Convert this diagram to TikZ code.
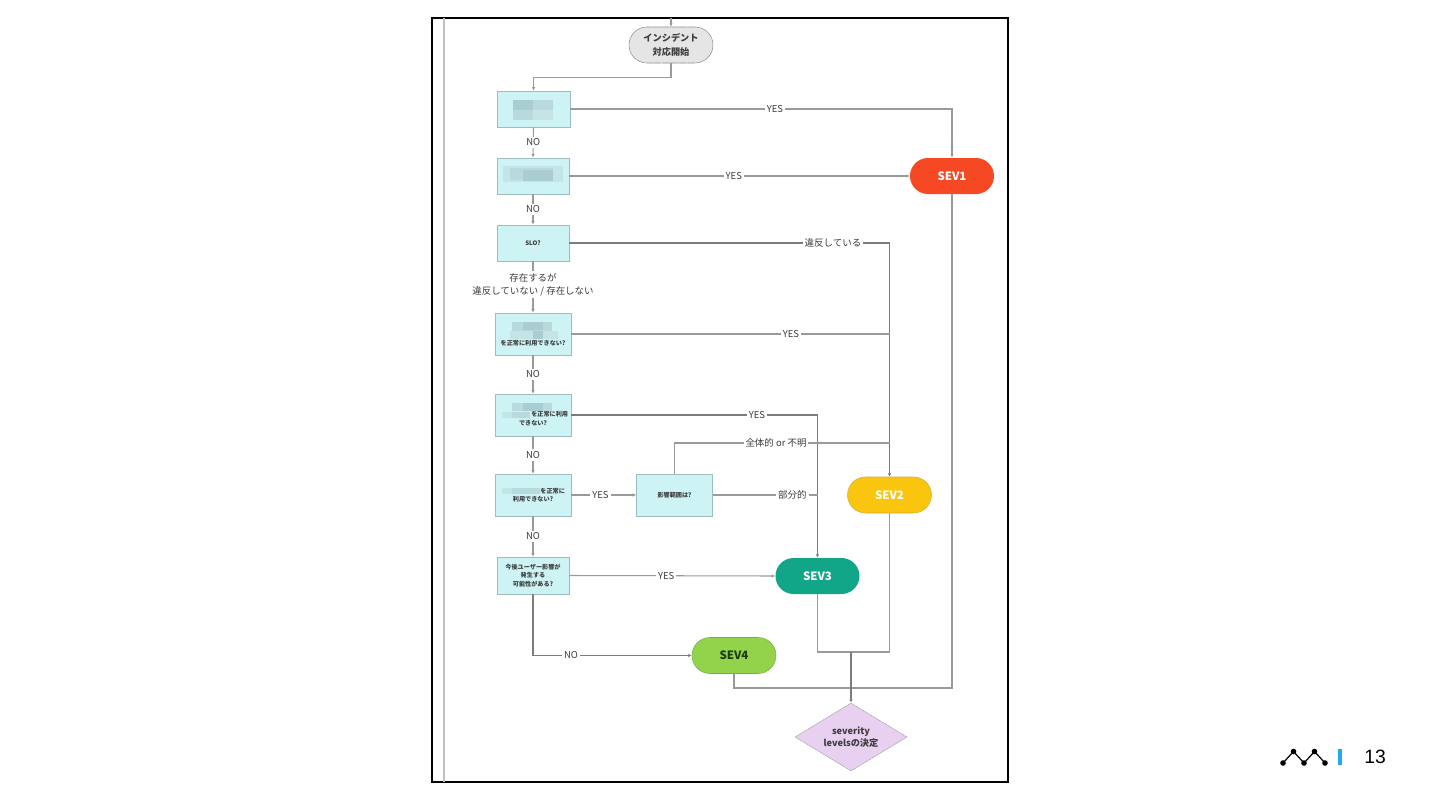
\documentclass[tikz,border=0pt]{standalone}
\usepackage{fontspec}
\setmainfont{Noto Sans CJK JP}
\newfontfamily\numfont{Liberation Sans}
\usetikzlibrary{shapes.geometric,arrows.meta}
\definecolor{boxfill}{HTML}{CDF3F5}
\definecolor{boxline}{HTML}{9DBDBF}
\definecolor{wire}{HTML}{9A9A9A}
\definecolor{wiredark}{HTML}{7C7C7C}
\definecolor{ink}{HTML}{3C3C3C}
\definecolor{blurA}{HTML}{B9DADC}
\definecolor{blurB}{HTML}{A9CDD0}
\definecolor{blurC}{HTML}{C4E4E6}
\definecolor{sevred}{RGB}{245,72,35}
\definecolor{sevyellow}{RGB}{250,197,15}
\definecolor{sevyellowline}{RGB}{210,175,60}
\definecolor{sevteal}{RGB}{18,166,137}
\definecolor{sevgreen}{RGB}{146,211,75}
\definecolor{sevgreenline}{RGB}{120,175,70}
\definecolor{sevink}{RGB}{30,60,20}
\definecolor{lilac}{RGB}{232,208,240}
\definecolor{barblue}{RGB}{30,170,235}
\tikzset{
  x=0.75pt,y=-0.75pt,
  qbox/.style={draw=boxline,line width=0.6pt,fill=boxfill,inner sep=0pt,align=center,text=ink,font=\fontsize{4.6}{6.4}\selectfont\bfseries},
  wh/.style 2 args={minimum width=#1*0.75pt,minimum height=#2*0.75pt},
  pill/.style={rounded corners=13.5pt,inner sep=0pt,align=center,minimum width=63pt,minimum height=27pt,font=\fontsize{8.6}{10}\selectfont\bfseries},
  conn/.style={draw=wire,line width=0.8pt},
  arr/.style={conn,-{Latex[length=2.6pt,width=2.6pt]}},
  lab/.style={fill=white,inner sep=1.5pt,text=ink,font=\fontsize{7.1}{9.8}\selectfont,align=center},
  blura/.style={fill=blurA,draw=none},
  blurb/.style={fill=blurB,draw=none},
  blurc/.style={fill=blurC,draw=none},
}
\begin{document}
\begin{tikzpicture}
\useasboundingbox (0,0) rectangle (1440,810);
\fill[white] (0,0) rectangle (1440,810);
% frame
\draw[black,line width=1.5pt] (431.5,18) rectangle (1008,781.5);
\draw[black!25,line width=0.9pt] (444,18) -- (444,781.5);
% nodes
\node[draw=black!45,dash pattern=on 6pt off 0.4pt,fill=black!10,rounded corners=13.5pt,inner sep=0pt,align=center,minimum width=63pt,minimum height=27pt,text=ink,font=\fontsize{6.9}{10.4}\selectfont\bfseries] (start) at (671,45) {インシデント\\対応開始};
\coordinate (top) at (671,18);
\node[qbox,wh={73}{36}] (b1) at (533.5,109) {};
\node[qbox,wh={72}{36}] (b2) at (533,176) {};
\node[qbox,wh={72}{36}] (b3) at (533,243) {SLO?};
\node[qbox,wh={76}{42}] (b4) at (533,334) {\phantom{あ}\\[7.8pt]を正常に利用できない?};
\node[qbox,wh={76}{42}] (b5) at (533,415) {\raisebox{-4.6pt}[0pt][0pt]{\hspace*{25pt}を正常に利用}\\\raisebox{-4.6pt}[0pt][0pt]{できない?}};
\node[qbox,wh={76}{42}] (b6) at (533,495) {\hspace*{29.5pt}を正常に\\利用できない?};
\node[qbox,wh={72}{37}] (b7) at (533,575.5) {今後ユーザー影響が\\発生する\\可能性がある?};
\node[qbox,wh={76}{42}] (b8) at (674.5,495) {影響範囲は?};
\node[pill,fill=sevred,text=white] (sev1) at (952,176) {SEV1};
\node[pill,fill=sevyellow,draw=sevyellowline,line width=0.4pt,text=white] (sev2) at (889.5,495) {SEV2};
\node[pill,fill=sevteal,text=white] (sev3) at (817.5,576) {SEV3};
\node[pill,fill=sevgreen,draw=sevgreenline,line width=0.4pt,text=sevink] (sev4) at (734,655.5) {SEV4};
\node[diamond,shape aspect=1.65,draw=black!35,dash pattern=on 2pt off 0.5pt,line width=0.4pt,fill=lilac,inner sep=0pt,minimum width=84pt,minimum height=51pt,align=center,text=ink,font=\fontsize{6.9}{9.4}\selectfont\bfseries] (sevlv) at (851,737) {severity\\levelsの決定};
% junctions
\coordinate (j2a) at (889.5,334);
\coordinate (j2b) at (889.5,443);
\coordinate (j3a) at (817.5,495);
\coordinate (j4) at (851,652);
\coordinate (j1) at (952,688);
\coordinate (s3drop) at (817.5,652);
\coordinate (s2drop) at (889.5,652);
% connectors
\draw[arr] (top) -- (start.north);
\draw[arr] (start.south) -- ++(0,14) -| (b1.north);
\draw[arr] (b1.south) -- node[lab]{NO} (b2.north);
\draw[arr] (b2.south) -- node[lab]{NO} (b3.north);
\draw[arr] (b3.south) -- node[lab,pos=0.45]{存在するが\\違反していない / 存在しない} (b4.north);
\draw[arr] (b4.south) -- node[lab]{NO} (b5.north);
\draw[arr] (b5.south) -- node[lab]{NO} (b6.north);
\draw[arr] (b6.south) -- node[lab]{NO} (b7.north);
\draw[arr] (b1.east) -| (sev1.north);
\node[lab] (l1) at (775,109) {YES};
\draw[arr] (b2.east) -- node[lab,pos=0.483]{YES} (sev1.west);
\draw[arr,draw=wiredark] (b3.east) -| (sev2.north);
\node[lab] (l3) at (833,243) {違反している};
\draw[conn] (b4.east) -- node[lab,pos=0.69]{YES} (j2a);
\draw[arr,draw=wiredark] (b5.east) -| (sev3.north);
\node[lab] (l5) at (757,415) {YES};
\draw[conn] (b8.north) |- (j2b);
\node[lab] (l8a) at (776,443) {全体的 or 不明};
\draw[conn] (b8.east) -- node[lab,pos=0.76]{部分的} (j3a);
\draw[arr] (b6.east) -- node[lab,pos=0.45]{YES} (b8.west);
\draw[arr] (b7.east) -- node[lab,pos=0.47]{YES} (sev3.west);
\draw[arr,draw=wiredark] (b7.south) |- (sev4.west);
\node[lab] (l7) at (571,655.5) {NO};
\draw[conn] (sev1.south) -- (j1) -| (sev4.south);
\draw[conn] (sev2.south) -- (s2drop) -- (s3drop) -- (sev3.south);
\draw[arr,draw=wiredark] (j4) -- (sevlv.north);
% mosaics hiding redacted text
\fill[blura] (513,100) rectangle (553,120);
\fill[blurb] (513,100) rectangle (533,110);
\fill[blurc] (533,110) rectangle (553,120);
\fill[blurc] (503,166) rectangle (563,182);
\fill[blura] (510,168) rectangle (553,180);
\fill[blurb] (523,170) rectangle (553,181);
\fill[blurc] (510,331) rectangle (558,339);
\fill[blura] (512,322) rectangle (552,331);
\fill[blurb] (523,322) rectangle (543,330);
\fill[blurb] (533,331) rectangle (543,339);
\fill[blura] (512,403) rectangle (552,411);
\fill[blurb] (523,403) rectangle (543,411);
\fill[blurc] (502,412) rectangle (530,418);
\fill[blura] (512,412) rectangle (530,418);
\fill[blurc] (502,488) rectangle (512,494);
\fill[blura] (512,488) rectangle (540,494);
% logo
\draw[black,line width=0.9pt] (1283,763) -- (1293.5,751.5) -- (1304,763) -- (1314.5,751.5) -- (1325,763);
\foreach \p in {(1283,763),(1293.5,751.5),(1304,763),(1314.5,751.5),(1325,763)} \fill[black] \p circle (2.1pt);
\fill[barblue] (1338,749) rectangle (1341.5,765);
\node[inner sep=0pt,font=\numfont\fontsize{14.5}{16}\selectfont,text=black] (pageno) at (1375,757) {13};
\end{tikzpicture}
\end{document}
